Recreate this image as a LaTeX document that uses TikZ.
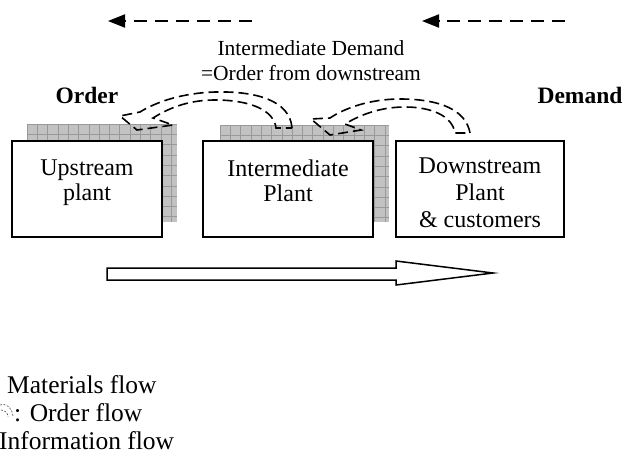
\documentclass[tikz,border=0pt]{standalone}
\usepackage{fontspec}
\setmainfont{Liberation Serif}
\usetikzlibrary{arrows.meta}
\definecolor{shadowgray}{HTML}{C2C2C2}
\definecolor{gridgray}{HTML}{999999}
\begin{document}
\begin{tikzpicture}[x=1pt,y=-1pt,
  plantbox/.style={draw=black, line width=1.8pt, fill=white, inner sep=0pt},
  shadowbox/.style={fill=shadowgray, inner sep=0pt,
    path picture={
      \foreach \i in {0,...,17}{
        \draw[gridgray, line width=0.6pt]
          ([xshift=\i*10.3pt]path picture bounding box.north west) --
          ([xshift=\i*10.3pt]path picture bounding box.south west);
      }
      \foreach \j in {0,...,10}{
        \draw[gridgray, line width=0.6pt]
          ([yshift=-\j*10.3pt]path picture bounding box.north west) --
          ([yshift=-\j*10.3pt]path picture bounding box.north east);
      }
    }},
  boxtext/.style={inner sep=0pt, anchor=base, font=\fontsize{24}{26}\selectfont},
  toptext/.style={inner sep=0pt, anchor=base, font=\fontsize{21.5}{24}\selectfont},
  boldtext/.style={inner sep=0pt, anchor=base, font=\fontsize{23.5}{26}\selectfont\bfseries},
  legendtext/.style={inner sep=0pt, anchor=base west, font=\fontsize{25.5}{28}\selectfont},
  orderflow/.style={draw=black, line width=1.6pt, dash pattern=on 10pt off 5pt, line join=miter},
  infoflow/.style={draw=black, line width=2pt, dash pattern=on 13pt off 8pt,
    -{Triangle[length=17pt,width=13pt]}},
  matflow/.style={draw=black, line width=1.5pt, fill=white, line join=miter}
]
\useasboundingbox (0,0) rectangle (624,464);

% shadows
\node[shadowbox, minimum width=150pt, minimum height=98pt] (upsh) at (102,173) {};
\node[shadowbox, minimum width=169pt, minimum height=97pt] (intsh) at (304.5,173.5) {};

% plant boxes
\node[plantbox, minimum width=150pt, minimum height=96pt] (up) at (87,189) {};
\node[plantbox, minimum width=170pt, minimum height=96pt] (int) at (288,189) {};
\node[plantbox, minimum width=168pt, minimum height=96pt] (down) at (480,189) {};

% box texts
\node[boxtext] (up1) at (87,175) {Upstream};
\node[boxtext] (up2) at (87,200) {plant};
\node[boxtext] (int1) at (288,176) {Intermediate};
\node[boxtext] (int2) at (288,201) {Plant};
\node[boxtext] (down1) at (480,173) {Downstream};
\node[boxtext] (down2) at (480,200) {Plant};
\node[boxtext] (down3) at (480,227) {\& customers};

% top labels
\node[toptext] (idem1) at (311,55) {Intermediate Demand};
\node[toptext] (idem2) at (311,80) {=Order from downstream};
\node[boldtext] (order) at (87,103) {Order};
\node[boldtext] (demand) at (580,103) {Demand};

% information flow arrows
\coordinate (i1tail) at (252,21);
\coordinate (i1tip) at (108,21);
\coordinate (i2tail) at (565,21);
\coordinate (i2tip) at (422,21);
\draw[infoflow] (i1tail) -- (i1tip);
\draw[infoflow] (i2tail) -- (i2tip);

% order flow curved arrows (hollow, dashed)
\draw[orderflow]
  (292,128) .. controls (290,100) and (255,91) .. (215,92)
  .. controls (182,93) and (156,102) .. (140,112)
  -- (120,116) -- (137,130) -- (173,125) -- (153,118)
  .. controls (172,106) and (192,100) .. (215,100)
  .. controls (250,100) and (274,110) .. (276,128) -- cycle;
\draw[orderflow]
  (470,133) .. controls (466,110) and (440,99) .. (400,99)
  .. controls (370,99) and (345,108) .. (330,118)
  -- (311,119) -- (330,135) -- (361,130) -- (345,124)
  .. controls (365,112) and (385,107) .. (405,107)
  .. controls (430,107) and (452,115) .. (455,133) -- cycle;

% materials flow arrow
\coordinate (m1) at (107,268);
\coordinate (m2) at (396,268);
\coordinate (m3) at (396,261);
\coordinate (mtip) at (493,273);
\coordinate (m5) at (396,285);
\coordinate (m6) at (396,280);
\coordinate (m7) at (107,280);
\draw[matflow] (m1) -- (m2) -- (m3) -- (mtip) -- (m5) -- (m6) -- (m7) -- cycle;

% legend
\draw[black!70, line width=0.6pt, dash pattern=on 2pt off 1.5pt]
  (0,405) .. controls (7,403) and (12,408) .. (13,416)
  (1,410) .. controls (5,410) and (8,413) .. (8,417);
\node[legendtext] (leg1) at (7,393) {Materials flow};
\node[legendtext] (leg2) at (14,421) {: Order flow};
\node[legendtext] (leg3) at (-1,449) {Information flow};
\end{tikzpicture}
\end{document}
